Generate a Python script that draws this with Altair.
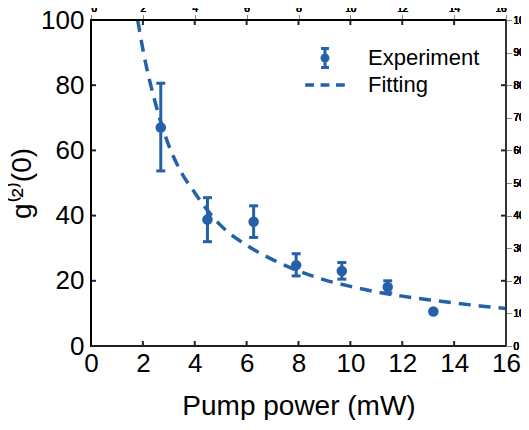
import altair as alt
import pandas as pd

BLUE = "#2461a8"
FONT = "Liberation Sans"

exp_x = [2.69, 4.49, 6.27, 7.91, 9.67, 11.44, 13.2]
exp_y = [67.0, 38.8, 38.1, 24.8, 23.0, 18.1, 10.6]
err_lo = [53.7, 32.0, 33.3, 21.5, 20.5, 16.3, 10.6]
err_hi = [80.6, 45.5, 43.0, 28.3, 25.6, 20.0, 10.6]

# Fitting curve
fit_x = [1.8, 2.0, 2.5, 3.0, 3.5, 4.0, 4.5, 5.0, 6.0, 7.0, 8.0, 9.0, 10.0,
         11.0, 12.0, 13.0, 14.0, 15.0, 16.0]
fit_y = [100, 91, 74, 61.5, 53, 47, 41.5, 37, 30.9, 26.5, 23.0, 20.3, 18.3,
         16.6, 15.3, 14.2, 13.2, 12.3, 11.5]

x_domain = [0.0, 16.0]
y_domain = [0.0, 100.0]
x_ticks = [0, 2, 4, 6, 8, 10, 12, 14, 16]
y_ticks = [0, 20, 40, 60, 80, 100]
legend_labels = ["Experiment", "Fitting"]

exp_df = pd.DataFrame({"x": exp_x, "y": exp_y, "lo": err_lo, "hi": err_hi})
fit_df = pd.DataFrame({"x": fit_x, "y": fit_y})
leg_df = pd.DataFrame({"series": legend_labels})
xtick_df = pd.DataFrame({"x": [float(v) for v in x_ticks]})
ytick_df = pd.DataFrame({"y": [float(v) for v in y_ticks]})

xs = alt.Scale(domain=x_domain, nice=False, zero=False)
ys = alt.Scale(domain=y_domain, nice=False, zero=False)

ax_x_labels = alt.Axis(orient="bottom", values=x_ticks, ticks=False, domain=False, grid=False,
                       labelFlush=False,
                       labelFontSize=26, labelPadding=4, labelColor="black", labelFont=FONT,
                       title="Pump power (mW)", titleFontSize=28, titleFontWeight="normal",
                       titleFont=FONT, titleColor="black", titlePadding=16)
ax_y_labels = alt.Axis(orient="left", values=y_ticks, ticks=False, domain=False, grid=False,
                       labelFlush=False,
                       labelFontSize=26, labelPadding=7, labelColor="black", labelFont=FONT,
                       title="g⁽²⁾(0)", titleFontSize=28, titleFontWeight="normal",
                       titleFont=FONT, titleColor="black", titlePadding=4)

line = alt.Chart(fit_df).mark_line(
    color=BLUE, strokeWidth=3.5, strokeDash=[12, 8], clip=True, interpolate="monotone"
).encode(
    x=alt.X("x:Q", scale=xs, axis=ax_x_labels),
    y=alt.Y("y:Q", scale=ys, axis=ax_y_labels),
)

# plot frame: rules built on the experiment table (datum positions = axis domain ends)
def vedge(xval, col):
    return alt.Chart(exp_df).mark_rule(color=col, strokeWidth=2, opacity=1).encode(
        x=alt.datum(xval, scale=xs),
        y=alt.datum(y_domain[0], scale=ys),
        y2=alt.datum(y_domain[1]),
    )

def hedge(yval, col):
    return alt.Chart(exp_df).mark_rule(color=col, strokeWidth=2, opacity=1).encode(
        y=alt.datum(yval, scale=ys),
        x=alt.datum(x_domain[0], scale=xs),
        x2=alt.datum(x_domain[1]),
    )

edge_left = vedge(x_domain[0], "#000000")
edge_right = vedge(x_domain[1], "#333333")
edge_bottom = hedge(y_domain[0], "#1e1e1e")
edge_top = hedge(y_domain[1], "black")

def xtick_layer(edge, shift):
    return alt.Chart(xtick_df).mark_tick(
        color="#222222", orient="vertical", size=5, thickness=2, opacity=1, yOffset=shift
    ).encode(
        x=alt.X("x:Q", scale=xs, axis=None),
        y=alt.datum(edge, scale=ys),
    )

def ytick_layer(edge, shift):
    return alt.Chart(ytick_df).mark_tick(
        color="#222222", orient="horizontal", size=5, thickness=2, opacity=1, xOffset=shift
    ).encode(
        y=alt.Y("y:Q", scale=ys, axis=None),
        x=alt.datum(edge, scale=xs),
    )

tick_bottom = xtick_layer(y_domain[0], -2.5)
tick_top = xtick_layer(y_domain[1], 2.5)
tick_left = ytick_layer(x_domain[0], 2.5)
tick_right = ytick_layer(x_domain[1], -2.5)

rules = alt.Chart(exp_df).mark_rule(color=BLUE, strokeWidth=3, opacity=1).encode(
    x=alt.X("x:Q", scale=xs, axis=None),
    y=alt.Y("lo:Q", scale=ys, axis=None),
    y2="hi:Q",
)

caps_lo = alt.Chart(exp_df).mark_tick(color=BLUE, orient="horizontal", size=9, thickness=3,
                                      opacity=1).encode(
    x=alt.X("x:Q", scale=xs, axis=None),
    y=alt.Y("lo:Q", scale=ys, axis=None),
)

caps_hi = alt.Chart(exp_df).mark_tick(color=BLUE, orient="horizontal", size=9, thickness=3,
                                      opacity=1).encode(
    x=alt.X("x:Q", scale=xs, axis=None),
    y=alt.Y("hi:Q", scale=ys, axis=None),
)

points = alt.Chart(exp_df).mark_point(color=BLUE, filled=True, size=110, opacity=1, shape="circle").encode(
    x=alt.X("x:Q", scale=xs, axis=None),
    y=alt.Y("y:Q", scale=ys, axis=None),
)

exp_path = ("M-0.44,-1.22H0.44V-0.88H-0.44Z"
            "M-0.44,0.88H0.44V1.22H-0.44Z"
            "M-0.17,-0.88H0.17V0.88H-0.17Z"
            "M-0.5,0A0.5,0.5 0 1,1 0.5,0A0.5,0.5 0 1,1 -0.5,0Z")
fit_path = ("M-2.2,-0.19H-1.22V0.19H-2.2Z"
            "M-0.49,-0.19H0.49V0.19H-0.49Z"
            "M1.22,-0.19H2.2V0.19H1.22Z")

legend_layer = alt.Chart(leg_df).mark_point(
    filled=True, color=BLUE, clip=True, opacity=1
).encode(
    x=alt.value(-500),
    y=alt.value(-500),
    shape=alt.Shape(
        "series:N",
        scale=alt.Scale(domain=legend_labels, range=[exp_path, fit_path]),
        legend=alt.Legend(
            title=None, orient="none", legendX=223, legendY=27,
            symbolSize=324, symbolOpacity=1,
            symbolFillColor=BLUE, symbolStrokeWidth=0,
            labelFontSize=22, labelFont=FONT, labelColor="black",
            labelOffset=32, padding=0, rowPadding=5,
        ),
    ),
)

chart = alt.layer(line, rules, caps_lo, caps_hi, points, legend_layer,
                  tick_bottom, tick_top, tick_left, tick_right,
                  edge_left, edge_right, edge_bottom, edge_top).resolve_axis(
    x="independent", y="independent"
).properties(
    width=415, height=326,
    background="white",
    autosize=alt.AutoSizeParams(type="none"),
    padding={"left": 83, "top": 12, "right": 15, "bottom": 74},
).configure_view(stroke="black", strokeWidth=2)

chart.save("out.html", embed_options={"renderer": "svg", "actions": False})
